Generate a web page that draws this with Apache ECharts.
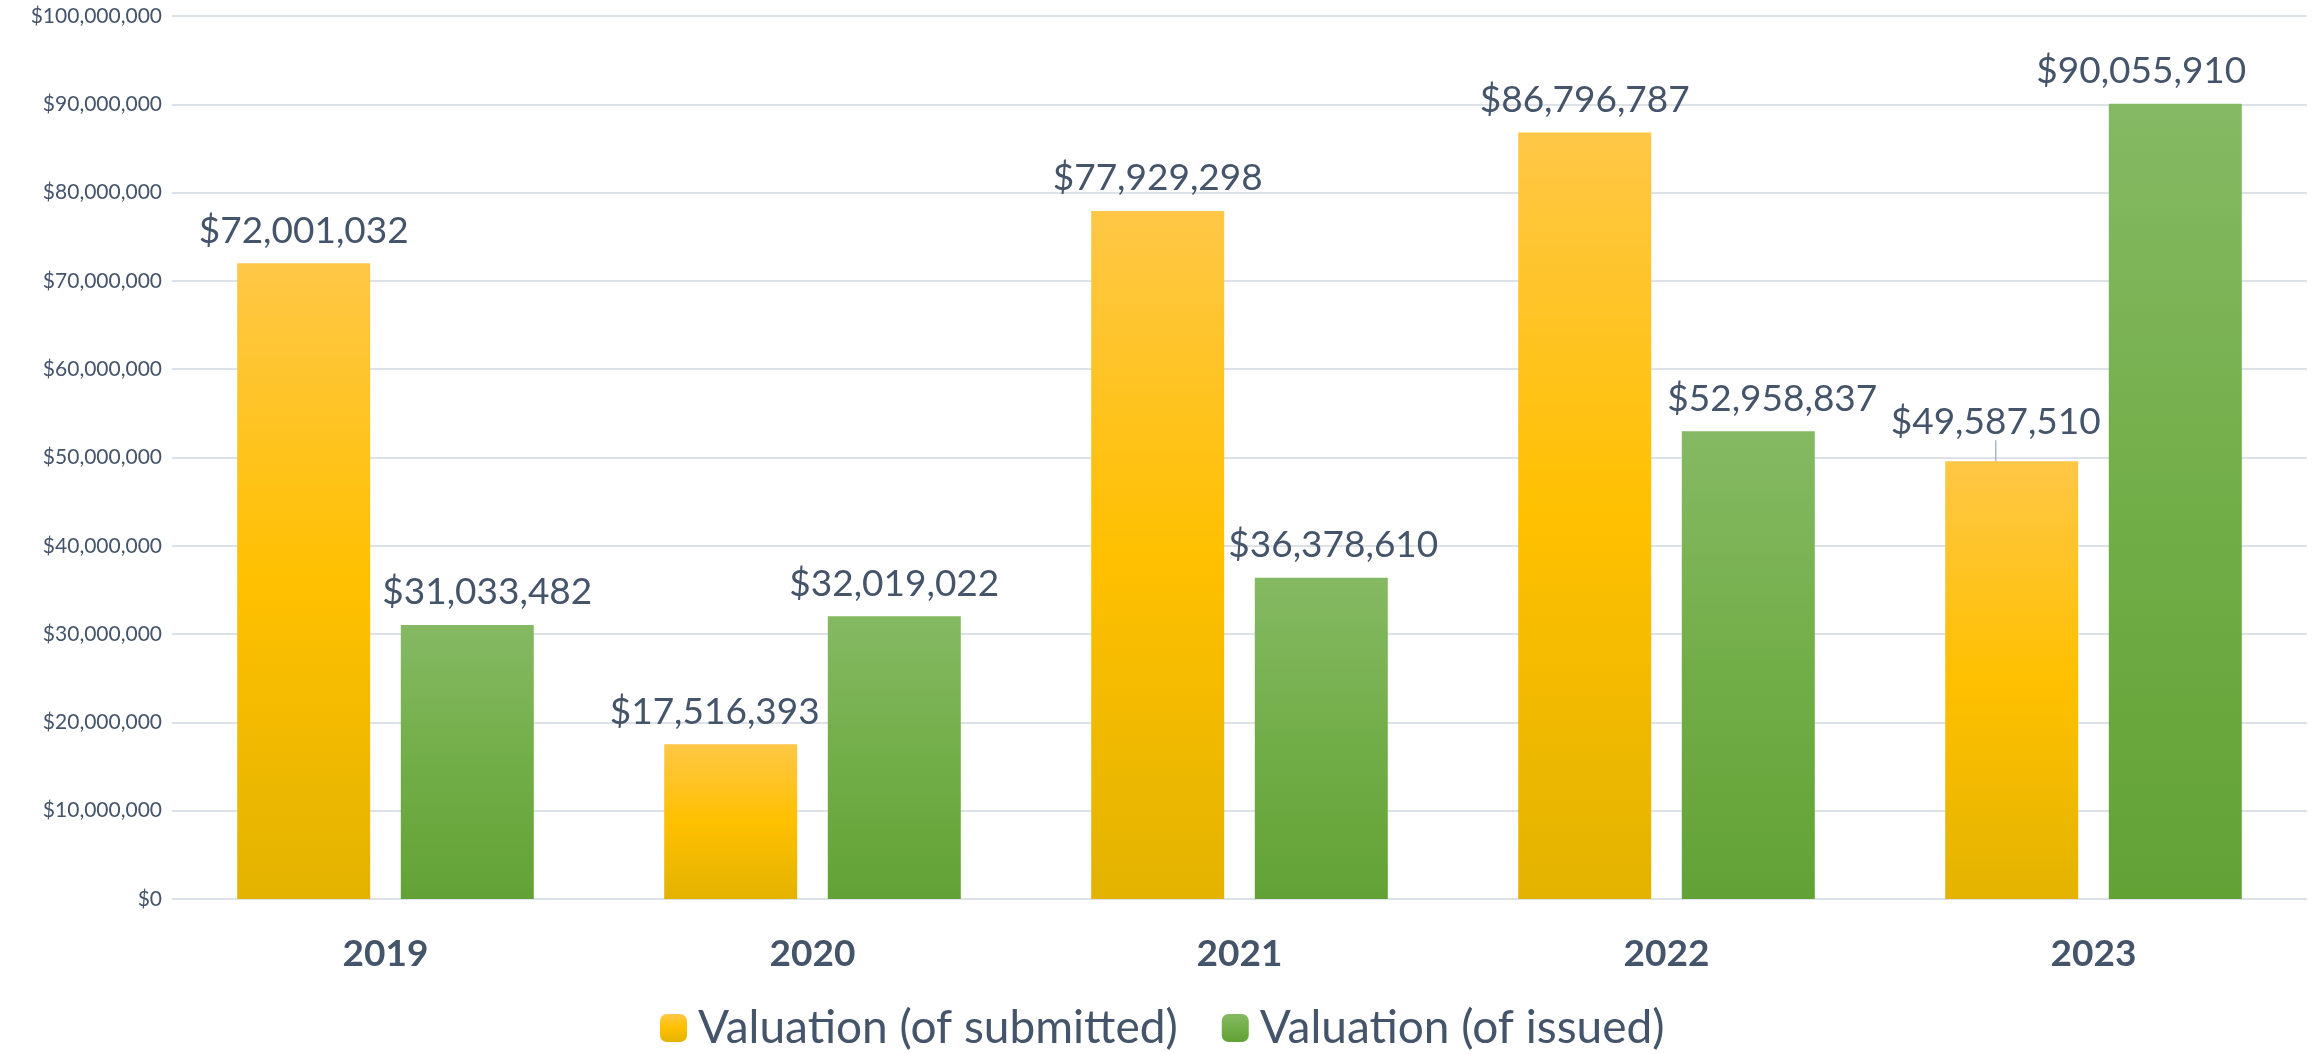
<!DOCTYPE html>
<html>
<head>
<meta charset="utf-8">
<script src="https://cdn.jsdelivr.net/npm/echarts@6/dist/echarts.min.js"></script>
<style>
  html, body { margin: 0; padding: 0; background: #fff; }
  #chart { width: 2318px; height: 1054px; }
</style>
</head>
<body>
<div id="chart"></div>
<script>
// years on the x axis
var years = ['2019', '2020', '2021', '2022', '2023'];
// valuation of submitted permits
var submitted = [72001032, 17516393, 77929298, 86796787, 49587510];
// valuation of issued permits
var issued = [31033482, 32019022, 36378610, 52958837, 90055910];
var seriesNames = ['Valuation (of submitted)', 'Valuation (of issued)'];

var textColor = '#44546a';
var font = 'Lato';

// small sideways nudges of the value labels, as in the original
var nudge = [
    [0, -16, 0, 0, -16],
    [20, 0, 12, 24, -34]
];

function money(v) {
    return '$' + Math.round(v).toLocaleString('en-US');
}

function grad(top, mid, bottom) {
    return new echarts.graphic.LinearGradient(0, 0, 0, 1, [
        { offset: 0, color: top },
        { offset: 0.5, color: mid },
        { offset: 1, color: bottom }
    ]);
}

var chart = echarts.init(document.getElementById('chart'));

var labelStyle = {
    show: true,
    position: 'top',
    distance: 14,
    color: textColor,
    fontFamily: font,
    fontSize: 37,
    formatter: function (p) { return money(p.value); }
};

function layoutFor(si) {
    return function (p) {
        var o = { dx: nudge[si][p.dataIndex] };
        if (si === 0 && p.dataIndex === 4) o.dy = -7;
        return o;
    };
}

// the 2023 submitted label gets a small leader line
var submittedData = submitted.map(function (v, i) {
    if (i === 4) {
        return { value: v, labelLine: { show: true, lineStyle: { color: '#a9b7c9', width: 1.5 } } };
    }
    return v;
});

var option = {
    animation: false,
    grid: { left: 172, right: 11, top: 16, bottom: 155 },
    legend: {
        data: seriesNames,
        left: 655,
        top: 1000,
        itemWidth: 27,
        itemHeight: 28,
        itemGap: 44,
        textStyle: { color: textColor, fontFamily: font, fontSize: 46, padding: [0, 0, 0, 6] }
    },
    xAxis: {
        type: 'category',
        data: years,
        axisLine: { show: false },
        axisTick: { show: false },
        axisLabel: {
            color: textColor, fontFamily: font, fontWeight: 'bold', fontSize: 37, margin: 37
        }
    },
    yAxis: {
        type: 'value',
        min: 0,
        max: 100000000,
        interval: 10000000,
        axisLabel: {
            color: textColor, fontFamily: font, fontSize: 21, margin: 10,
            formatter: function (v) { return money(v); }
        },
        splitLine: { lineStyle: { color: '#dde2e8', width: 2 } }
    },
    series: [
        {
            name: seriesNames[0],
            type: 'bar',
            data: submittedData,
            barWidth: 133,
            barGap: '23%',
            itemStyle: { color: grad('#ffc746', '#ffc000', '#e3b300') },
            label: labelStyle,
            labelLayout: layoutFor(0)
        },
        {
            name: seriesNames[1],
            type: 'bar',
            data: issued,
            barWidth: 133,
            itemStyle: { color: grad('#85b963', '#72ae48', '#62a235') },
            label: labelStyle,
            labelLayout: layoutFor(1)
        }
    ]
};

chart.setOption(option);
</script>
</body>
</html>
